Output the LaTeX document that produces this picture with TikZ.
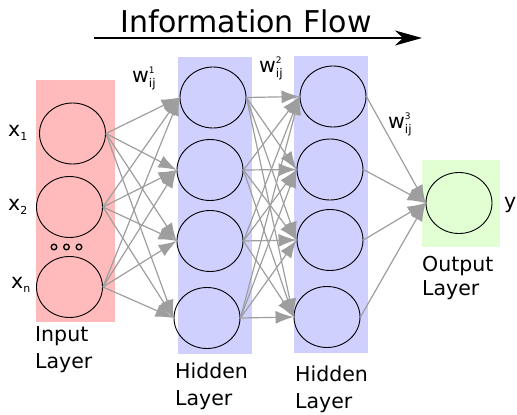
\documentclass[tikz,border=0pt]{standalone}
\usepackage{fontspec}
\setmainfont{DejaVu Sans}
\usetikzlibrary{shapes.geometric,
                arrows.meta, % for the big arrow heads
                positioning}
\definecolor{inputpink}{RGB}{255,187,187}
\definecolor{hiddenblue}{RGB}{208,208,255}
\definecolor{outputgreen}{RGB}{226,255,212}
\newcommand{\lowidx}[1]{\raisebox{-4pt}{\fontsize{11}{11}\selectfont #1}}
\newcommand{\wlabel}[1]{w\rlap{\raisebox{9pt}{\fontsize{9}{9}\selectfont #1}}\raisebox{-5pt}{\fontsize{12}{12}\selectfont ij}}

\begin{document}
\begin{tikzpicture}[x=1pt, y=-1pt,
                    neuron/.style={draw, ellipse, line width=0.9pt, minimum width=66pt, minimum height=61pt, inner sep=0},
                    weight/.style={-{Latex[length=18pt,width=13pt]}, line width=1.2pt, black!38},
                    flow/.style={-{Stealth[length=27pt,width=15pt,inset=8pt]}, line width=1.8pt},
                    layerlabel/.style={anchor=north west, align=left, inner sep=0, font=\fontsize{20.5}{27}\selectfont},
                    varlabel/.style={anchor=base west, inner sep=0, font=\fontsize{20.5}{24}\selectfont}
                    ]
    \useasboundingbox (0,0) rectangle (517,415);

    %layer backgrounds
    \fill[inputpink]   (36,80)   rectangle (115,322);
    \fill[hiddenblue]  (178,57)  rectangle (252,354);
    \fill[hiddenblue]  (294,56)  rectangle (368,353);
    \fill[outputgreen] (422,160) rectangle (500,247);

    %title and flow arrow
    \node[anchor=base, inner sep=0, font=\fontsize{30}{36}\selectfont] at (246,32) (title) {Information Flow};
    \coordinate (flowstart) at (94,38);
    \coordinate (flowend)   at (422,38);
    \draw[flow] (flowstart) -- (flowend);

    %input neurons
    \node[neuron] at (72.5,133.5) (I1){};
    \node[neuron] at (69.5,207)   (I2){};
    \node[neuron] at (69.5,287)   (I3){};
    \draw[line width=1.3pt] (54,247) circle (2.8);
    \draw[line width=1.3pt] (66.5,247) circle (2.8);
    \draw[line width=1.3pt] (79,247) circle (2.8);

    %first hidden layer
    \node[neuron] at (213,97.5) (A1){};
    \node[neuron] at (210,170)  (A2){};
    \node[neuron] at (210,241)  (A3){};
    \node[neuron] at (207,318)  (A4){};

    %second hidden layer
    \node[neuron] at (333,96.5) (B1){};
    \node[neuron] at (330,169.5)(B2){};
    \node[neuron] at (330,240)  (B3){};
    \node[neuron] at (327,317)  (B4){};

    %output neuron
    \node[neuron] at (459,203) (O){};

    %weights
    \foreach \s in {I1,I2,I3}
        \foreach \t in {A1,A2,A3,A4}
            \draw[weight] (\s.east) -- (\t.west);
    \foreach \s in {A1,A2,A3,A4}
        \foreach \t in {B1,B2,B3,B4}
            \draw[weight] (\s.east) -- (\t.west);
    \foreach \s in {B1,B2,B3,B4}
        \draw[weight] (\s.east) -- (O.west);

    %variable labels
    \node[varlabel] at (8,136)  (x1lab) {x\lowidx{1}};
    \node[varlabel] at (8,210)  (x2lab) {x\lowidx{2}};
    \node[varlabel] at (11,288) (xnlab) {x\lowidx{n}};
    \node[varlabel] at (504,208) (ylab) {y};
    \node[varlabel] at (132,82)  (w1lab) {\wlabel{1}};
    \node[varlabel] at (259,72)  (w2lab) {\wlabel{2}};
    \node[varlabel] at (388,128) (w3lab) {\wlabel{3}};

    %layer names
    \node[layerlabel] at (35,326)  (inlab)  {Input\\Layer};
    \node[layerlabel] at (175,363) (h1lab)  {Hidden\\Layer};
    \node[layerlabel] at (295,366) (h2lab)  {Hidden\\Layer};
    \node[layerlabel, font=\fontsize{20.5}{24}\selectfont] at (422,256) (outlab) {Output\\Layer};

\end{tikzpicture}
\end{document}
